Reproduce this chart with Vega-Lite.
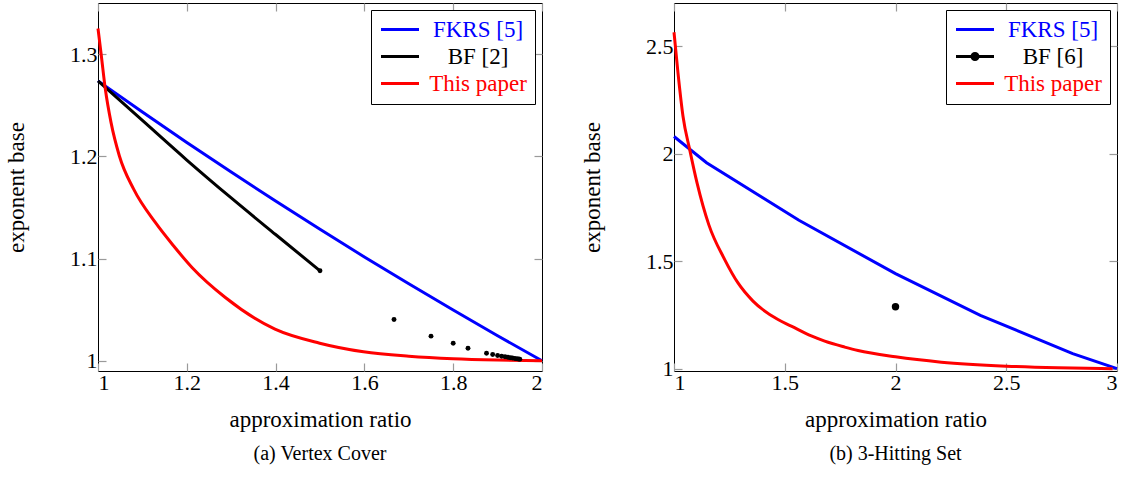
{
  "$schema": "https://vega.github.io/schema/vega-lite/v6.json",
  "padding": {"left": 5, "top": 1, "right": 5, "bottom": 0},
  "spacing": 32,
  "resolve": {"scale": {"color": "independent"}, "legend": {"color": "independent"}},
  "config": {
    "font": "Liberation Serif",
    "view": {"stroke": "#000000", "strokeWidth": 1},
    "axis": {
      "domain": false, "grid": false, "ticks": true, "tickSize": -8, "tickColor": "#9a9a9a", "tickWidth": 1.2,
      "labelFont": "Liberation Serif", "labelFontSize": 22, "labelColor": "#000000", "labelPadding": 9,
      "titleFont": "Liberation Serif", "titleFontSize": 23, "titleFontWeight": "normal", "titleColor": "#000000"
    },
    "axisX": {"titlePadding": 15},
    "axisY": {"titlePadding": 41},
    "legend": {
      "orient": "top-right", "offset": 7, "strokeColor": "#000000", "fillColor": "#ffffff",
      "padding": 8, "rowPadding": 3, "labelFont": "Liberation Serif", "labelFontSize": 23,
      "labelAlign": "center", "labelOffset": 76, "symbolType": "M-1,0L3,0", "symbolSize": 361,
      "symbolStrokeWidth": 3, "cornerRadius": 0
    },
    "title": {"font": "Liberation Serif", "fontSize": 20, "fontWeight": "normal", "color": "#000000", "offset": 13}
  },
  "datasets": {
    "vc": [
      {"series": "FKRS [5]", "kind": "line", "x": 1.0, "y": 1.2738},
      {"series": "FKRS [5]", "kind": "line", "x": 1.1, "y": 1.2433},
      {"series": "FKRS [5]", "kind": "line", "x": 1.2, "y": 1.2136},
      {"series": "FKRS [5]", "kind": "line", "x": 1.3, "y": 1.1846},
      {"series": "FKRS [5]", "kind": "line", "x": 1.4, "y": 1.1563},
      {"series": "FKRS [5]", "kind": "line", "x": 1.5, "y": 1.1286},
      {"series": "FKRS [5]", "kind": "line", "x": 1.6, "y": 1.1016},
      {"series": "FKRS [5]", "kind": "line", "x": 1.7, "y": 1.0753},
      {"series": "FKRS [5]", "kind": "line", "x": 1.8, "y": 1.0496},
      {"series": "FKRS [5]", "kind": "line", "x": 1.9, "y": 1.0245},
      {"series": "FKRS [5]", "kind": "line", "x": 2.0, "y": 1.0},
      {"series": "BF [2]", "kind": "line", "x": 1.0, "y": 1.2738},
      {"series": "BF [2]", "kind": "line", "x": 1.1, "y": 1.2351},
      {"series": "BF [2]", "kind": "line", "x": 1.2, "y": 1.1964},
      {"series": "BF [2]", "kind": "line", "x": 1.3, "y": 1.1593},
      {"series": "BF [2]", "kind": "line", "x": 1.4, "y": 1.1235},
      {"series": "BF [2]", "kind": "line", "x": 1.5, "y": 1.088},
      {"series": "This paper", "kind": "line", "x": 1.0, "y": 1.325},
      {"series": "This paper", "kind": "line", "x": 1.0075, "y": 1.2984},
      {"series": "This paper", "kind": "line", "x": 1.0165, "y": 1.2658},
      {"series": "This paper", "kind": "line", "x": 1.0293, "y": 1.2332},
      {"series": "This paper", "kind": "line", "x": 1.048, "y": 1.2006},
      {"series": "This paper", "kind": "line", "x": 1.0803, "y": 1.1679},
      {"series": "This paper", "kind": "line", "x": 1.1291, "y": 1.1353},
      {"series": "This paper", "kind": "line", "x": 1.17, "y": 1.1125},
      {"series": "This paper", "kind": "line", "x": 1.2117, "y": 1.0913},
      {"series": "This paper", "kind": "line", "x": 1.2868, "y": 1.0619},
      {"series": "This paper", "kind": "line", "x": 1.3986, "y": 1.0309},
      {"series": "This paper", "kind": "line", "x": 1.4993, "y": 1.0172},
      {"series": "This paper", "kind": "line", "x": 1.598, "y": 1.0088},
      {"series": "This paper", "kind": "line", "x": 1.7, "y": 1.0045},
      {"series": "This paper", "kind": "line", "x": 1.8, "y": 1.002},
      {"series": "This paper", "kind": "line", "x": 1.9, "y": 1.0007},
      {"series": "This paper", "kind": "line", "x": 2.0, "y": 1.0},
      {"series": "BF [2]", "kind": "dot", "x": 1.5, "y": 1.088},
      {"series": "BF [2]", "kind": "dot", "x": 1.6667, "y": 1.0404},
      {"series": "BF [2]", "kind": "dot", "x": 1.75, "y": 1.0241},
      {"series": "BF [2]", "kind": "dot", "x": 1.8, "y": 1.0172},
      {"series": "BF [2]", "kind": "dot", "x": 1.8333, "y": 1.0123},
      {"series": "BF [2]", "kind": "dot", "x": 1.875, "y": 1.0074},
      {"series": "BF [2]", "kind": "dot", "x": 1.8889, "y": 1.0062},
      {"series": "BF [2]", "kind": "dot", "x": 1.9, "y": 1.0052},
      {"series": "BF [2]", "kind": "dot", "x": 1.9091, "y": 1.0045},
      {"series": "BF [2]", "kind": "dot", "x": 1.9167, "y": 1.0039},
      {"series": "BF [2]", "kind": "dot", "x": 1.9231, "y": 1.0034},
      {"series": "BF [2]", "kind": "dot", "x": 1.9286, "y": 1.003},
      {"series": "BF [2]", "kind": "dot", "x": 1.9333, "y": 1.0027},
      {"series": "BF [2]", "kind": "dot", "x": 1.9375, "y": 1.0024},
      {"series": "BF [2]", "kind": "dot", "x": 1.9412, "y": 1.0021},
      {"series": "BF [2]", "kind": "dot", "x": 1.9444, "y": 1.0019},
      {"series": "BF [2]", "kind": "dot", "x": 1.9474, "y": 1.0017},
      {"series": "BF [2]", "kind": "dot", "x": 1.95, "y": 1.0015}
    ],
    "hs": [
      {"series": "FKRS [5]", "kind": "line", "x": 1.0, "y": 2.08},
      {"series": "FKRS [5]", "kind": "line", "x": 1.147, "y": 1.958},
      {"series": "FKRS [5]", "kind": "line", "x": 1.564, "y": 1.69},
      {"series": "FKRS [5]", "kind": "line", "x": 2.0, "y": 1.442},
      {"series": "FKRS [5]", "kind": "line", "x": 2.383, "y": 1.248},
      {"series": "FKRS [5]", "kind": "line", "x": 2.8, "y": 1.07},
      {"series": "FKRS [5]", "kind": "line", "x": 3.0, "y": 1.0},
      {"series": "This paper", "kind": "curve", "x": 1.0, "y": 2.565},
      {"series": "This paper", "kind": "curve", "x": 1.018, "y": 2.376},
      {"series": "This paper", "kind": "curve", "x": 1.0406, "y": 2.174},
      {"series": "This paper", "kind": "curve", "x": 1.0709, "y": 2.019},
      {"series": "This paper", "kind": "curve", "x": 1.104, "y": 1.864},
      {"series": "This paper", "kind": "curve", "x": 1.157, "y": 1.67},
      {"series": "This paper", "kind": "curve", "x": 1.2289, "y": 1.5074},
      {"series": "This paper", "kind": "curve", "x": 1.2889, "y": 1.3986},
      {"series": "This paper", "kind": "curve", "x": 1.3567, "y": 1.314},
      {"series": "This paper", "kind": "curve", "x": 1.4695, "y": 1.2284},
      {"series": "This paper", "kind": "curve", "x": 1.5296, "y": 1.1977},
      {"series": "This paper", "kind": "curve", "x": 1.6199, "y": 1.1519},
      {"series": "This paper", "kind": "curve", "x": 1.6804, "y": 1.1279},
      {"series": "This paper", "kind": "curve", "x": 1.7707, "y": 1.1003},
      {"series": "This paper", "kind": "curve", "x": 1.8307, "y": 1.0842},
      {"series": "This paper", "kind": "curve", "x": 2.0, "y": 1.0549},
      {"series": "This paper", "kind": "curve", "x": 2.2068, "y": 1.0302},
      {"series": "This paper", "kind": "curve", "x": 2.5, "y": 1.0116},
      {"series": "This paper", "kind": "curve", "x": 2.7336, "y": 1.004},
      {"series": "This paper", "kind": "curve", "x": 2.98, "y": 1.0},
      {"series": "BF [6]", "kind": "dot", "x": 2.0, "y": 1.288}
    ]
  },
  "hconcat": [
    {
      "width": 444, "height": 368,
      "data": {"name": "vc"},
      "title": {"text": "(a) Vertex Cover", "orient": "bottom"},
      "layer": [
        {
          "transform": [{"filter": "datum.kind === 'line'"}],
          "mark": {"type": "line", "strokeWidth": 3, "interpolate": "monotone"},
          "encoding": {
            "x": {"field": "x", "type": "quantitative", "scale": {"domain": [1, 2], "nice": false, "zero": false},
                  "axis": {"title": "approximation ratio", "values": [1, 1.2, 1.4, 1.6, 1.8, 2], "format": "~g"}},
            "y": {"field": "y", "type": "quantitative", "scale": {"domain": [0.99, 1.35], "nice": false, "zero": false},
                  "axis": {"title": "exponent base", "values": [1, 1.1, 1.2, 1.3], "format": "~g"}},
            "color": {"field": "series", "type": "nominal",
                      "scale": {"domain": ["FKRS [5]", "BF [2]", "This paper"], "range": ["#0000ff", "#000000", "#ff0000"]},
                      "legend": {"title": null,
                        "encode": {
                          "labels": {"update": {"fill": {"signal": "datum.value === 'FKRS [5]' ? '#0000ff' : datum.value === 'This paper' ? '#ff0000' : '#000000'"}}}
                        }}}
          }
        },
        {
          "transform": [{"filter": "datum.kind === 'dot'"}],
          "mark": {"type": "circle", "size": 24, "opacity": 1, "color": "#000000"},
          "encoding": {
            "x": {"field": "x", "type": "quantitative", "scale": {"domain": [1, 2], "nice": false, "zero": false},
                  "axis": {"orient": "top", "labels": false, "title": null, "values": [1, 1.2, 1.4, 1.6, 1.8, 2]}},
            "y": {"field": "y", "type": "quantitative", "scale": {"domain": [0.99, 1.35], "nice": false, "zero": false},
                  "axis": {"orient": "right", "labels": false, "title": null, "values": [1, 1.1, 1.2, 1.3]}}
          }
        }
      ],
      "resolve": {"axis": {"x": "independent", "y": "independent"}}
    },
    {
      "width": 443, "height": 368,
      "data": {"name": "hs"},
      "title": {"text": "(b) 3-Hitting Set", "orient": "bottom"},
      "layer": [
        {
          "transform": [{"filter": "datum.kind === 'line'"}],
          "mark": {"type": "line", "strokeWidth": 3},
          "encoding": {
            "x": {"field": "x", "type": "quantitative", "scale": {"domain": [1, 3], "nice": false, "zero": false},
                  "axis": {"title": "approximation ratio", "values": [1, 1.5, 2, 2.5, 3], "format": "~g"}},
            "y": {"field": "y", "type": "quantitative", "scale": {"domain": [0.989, 2.701], "nice": false, "zero": false},
                  "axis": {"title": "exponent base", "values": [1, 1.5, 2, 2.5], "format": "~g"}},
            "color": {"field": "series", "type": "nominal",
                      "scale": {"domain": ["FKRS [5]", "BF [6]", "This paper"], "range": ["#0000ff", "#000000", "#ff0000"]},
                      "legend": {"title": null,
                        "encode": {
                          "labels": {"update": {"fill": {"signal": "datum.value === 'FKRS [5]' ? '#0000ff' : datum.value === 'This paper' ? '#ff0000' : '#000000'"}}},
                          "symbols": {"update": {
                            "shape": {"signal": "datum.value === 'BF [6]' ? 'M-1,0L3,0M0.68,0A0.32,0.32 0 1,0 1.32,0A0.32,0.32 0 1,0 0.68,0Z' : 'M-1,0L3,0'"},
                            "fill": {"signal": "datum.value === 'BF [6]' ? '#000000' : 'transparent'"}
                          }}
                        }}}
          }
        },
        {
          "transform": [{"filter": "datum.kind === 'curve'"}],
          "mark": {"type": "line", "strokeWidth": 3, "interpolate": "monotone"},
          "encoding": {
            "x": {"field": "x", "type": "quantitative", "scale": {"domain": [1, 3], "nice": false, "zero": false}, "axis": null},
            "y": {"field": "y", "type": "quantitative", "scale": {"domain": [0.989, 2.701], "nice": false, "zero": false}, "axis": null},
            "color": {"field": "series", "type": "nominal"}
          }
        },
        {
          "transform": [{"filter": "datum.kind === 'dot'"}],
          "mark": {"type": "circle", "size": 55, "opacity": 1, "color": "#000000"},
          "encoding": {
            "x": {"field": "x", "type": "quantitative", "scale": {"domain": [1, 3], "nice": false, "zero": false},
                  "axis": {"orient": "top", "labels": false, "title": null, "values": [1, 1.5, 2, 2.5, 3]}},
            "y": {"field": "y", "type": "quantitative", "scale": {"domain": [0.989, 2.701], "nice": false, "zero": false},
                  "axis": {"orient": "right", "labels": false, "title": null, "values": [1, 1.5, 2, 2.5]}}
          }
        }
      ],
      "resolve": {"axis": {"x": "independent", "y": "independent"}}
    }
  ]
}
